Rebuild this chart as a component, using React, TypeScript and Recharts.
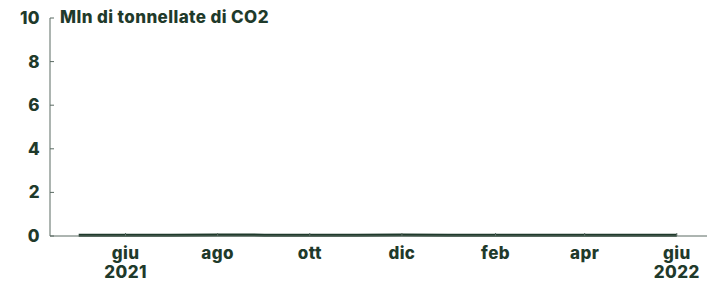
import { LineChart, Line, XAxis, YAxis } from 'recharts';

const INK = '#1f3a2b';
const AXIS = '#5b6b63';
const FONT = 'Inter, "Noto Sans", sans-serif';

// monthly readings, May 2021 – June 2022 (Mln t CO2)
const dates = [
  '2021-05-01', '2021-06-01', '2021-07-01', '2021-08-01', '2021-09-01',
  '2021-10-01', '2021-11-01', '2021-12-01', '2022-01-01', '2022-02-01',
  '2022-03-01', '2022-04-01', '2022-05-01', '2022-06-01',
];
const values = [0.04, 0.04, 0.04, 0.05, 0.04, 0.04, 0.04, 0.05, 0.04, 0.04, 0.04, 0.04, 0.04, 0.04];

const tickDates = ['2021-06-01', '2021-08-01', '2021-10-01', '2021-12-01', '2022-02-01', '2022-04-01', '2022-06-01'];
const tickMonths = ['giu', 'ago', 'ott', 'dic', 'feb', 'apr', 'giu'];
const tickYears = ['2021', '', '', '', '', '', '2022'];
const yTicks = [0, 2, 4, 6, 8, 10];

const ts = (s: string) => new Date(s + 'T00:00:00Z').getTime();

const data = dates.map((d, i) => ({ t: ts(d), v: values[i] }));
const xTicks = tickDates.map(ts);

const textStyle = {
  fill: INK,
  fontFamily: FONT,
  fontWeight: 800,
  fontSize: 17,
  letterSpacing: 0.4,
};

function XTick({ x, y, payload }: any) {
  const i = xTicks.indexOf(payload.value);
  return (
    <g>
      <line x1={x} x2={x} y1={y - 3} y2={y} stroke={AXIS} strokeWidth={1} />
      <text x={x} y={y + 23} textAnchor="middle" style={textStyle}>
        {tickMonths[i]}
      </text>
      {tickYears[i] && (
        <text x={x} y={y + 42} textAnchor="middle" style={textStyle}>
          {tickYears[i]}
        </text>
      )}
    </g>
  );
}

function YTick({ x, y, payload }: any) {
  return (
    <g>
      <line x1={x} x2={x + 4} y1={y} y2={y} stroke={AXIS} strokeWidth={1} />
      <text x={x - 10} y={y + 6} textAnchor="end" style={textStyle}>
        {payload.value}
      </text>
    </g>
  );
}

export default function App() {
  return (
    <div style={{ position: 'relative', width: 708, height: 274 }}>
      <LineChart width={708} height={274} data={data} margin={{ top: 10, right: 9, left: 0, bottom: 0 }}>
        <XAxis
          dataKey="t"
          type="number"
          scale="time"
          domain={[ts('2021-04-12'), ts('2022-06-21')]}
          ticks={xTicks}
          tick={<XTick />}
          tickLine={false}
          tickSize={0}
          tickMargin={0}
          height={46}
          axisLine={{ stroke: AXIS, strokeWidth: 1 }}
          interval={0}
        />
        <YAxis
          domain={[0, 10]}
          ticks={yTicks}
          tick={<YTick />}
          tickLine={false}
          tickSize={0}
          tickMargin={0}
          width={42}
          axisLine={{ stroke: AXIS, strokeWidth: 1 }}
          interval={0}
        />
        <Line
          type="linear"
          dataKey="v"
          stroke={INK}
          strokeWidth={3}
          dot={false}
          isAnimationActive={false}
        />
      </LineChart>
      <div
        style={{
          position: 'absolute',
          left: 52,
          top: 1,
          fontFamily: FONT,
          fontWeight: 800,
          fontSize: 17,
          letterSpacing: 0.4,
          lineHeight: '17px',
          color: INK,
          whiteSpace: 'nowrap',
        }}
      >
        Mln di tonnellate di CO2
      </div>
    </div>
  );
}
